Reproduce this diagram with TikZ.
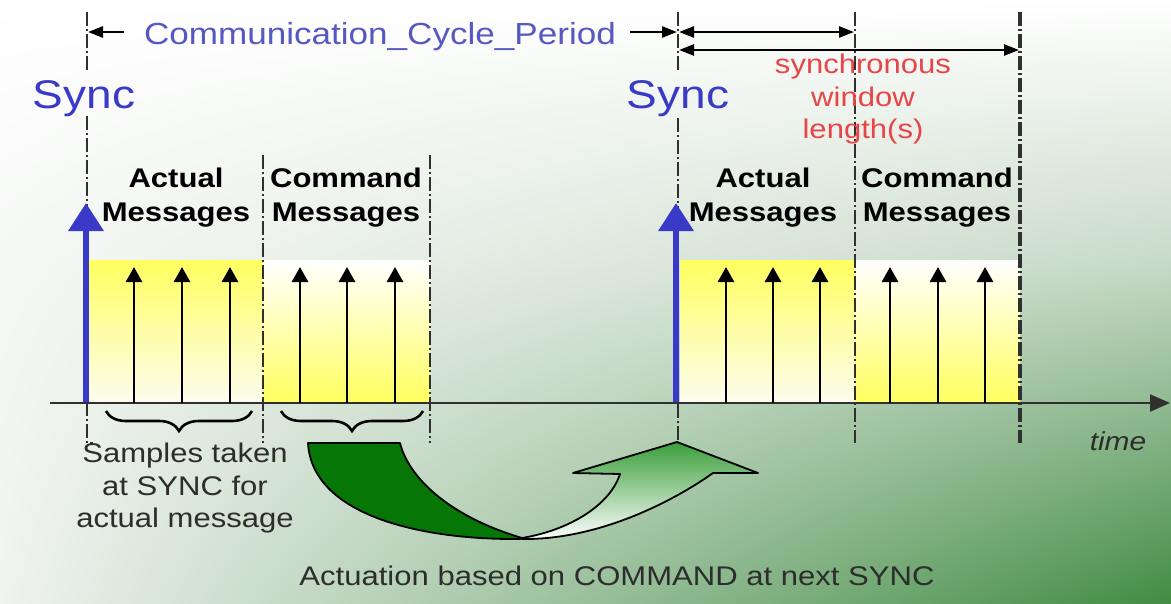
\documentclass[tikz,border=0pt]{standalone}
\usepackage{fontspec}
\setmainfont{Liberation Sans}[FakeStretch=1.15]
\usetikzlibrary{arrows.meta,decorations.pathreplacing,shadings}
\definecolor{syncblue}{RGB}{58,58,200}
\definecolor{labelblue}{RGB}{88,88,196}
\definecolor{redtxt}{RGB}{232,70,70}
\definecolor{yel}{RGB}{255,255,96}
\definecolor{yelw}{RGB}{252,252,238}
\definecolor{dkgreen}{RGB}{6,118,6}
\definecolor{ltgreen}{RGB}{58,158,58}
\definecolor{linegray}{RGB}{48,48,48}
\definecolor{txtgray}{RGB}{45,45,45}
\definecolor{bgA}{RGB}{246,248,246}
\definecolor{bgB}{RGB}{200,218,200}
\definecolor{bgC}{RGB}{240,243,240}
\definecolor{bgD}{RGB}{66,140,68}
\tikzset{
  sepline/.style={draw=linegray, line width=2pt, dash pattern=on 14pt off 3pt on 2pt off 3pt},
  msgarr/.style={-{Triangle[width=16pt,length=15pt]}, line width=2.8pt, black},
  syncarr/.style={-{Triangle[width=34pt,length=28pt]}, line width=6.5pt, syncblue},
  dimarr/.style={{Triangle[width=11pt,length=15pt]}-{Triangle[width=11pt,length=15pt]}, line width=2.5pt, black},
  dimone/.style={-{Triangle[width=11pt,length=15pt]}, line width=2.5pt, black},
  bracest/.style={decorate, decoration={brace, mirror, amplitude=20pt}, line width=2.6pt, black},
  boxlbl/.style={font=\fontsize{27}{34}\selectfont\bfseries, text=black, anchor=base, inner sep=0pt},
  synclbl/.style={font=\fontsize{40}{44}\selectfont, text=syncblue, anchor=base, inner sep=0pt},
  redlbl/.style={font=\fontsize{27}{32}\selectfont, text=redtxt, anchor=base, inner sep=0pt},
  graylbl/.style={font=\fontsize{27}{32}\selectfont, text=txtgray, anchor=base, inner sep=0pt},
  greenout/.style={draw=black, line width=1.8pt, line join=round}
}
\begin{document}
\begin{tikzpicture}[x=1pt,y=-1pt]
\useasboundingbox (0,0) rectangle (1171,603);
% background
\shade[upper left=white, upper right=white, lower left=bgA, lower right=bgB] (0,0) rectangle (1171,260);
\shade[upper left=bgA, upper right=bgB, lower left=bgC, lower right=bgD] (0,260) rectangle (1171,603);
% message boxes
\shade[top color=yel, bottom color=yelw] (89,260) rectangle (263,402);
\shade[top color=white, bottom color=yel] (263,260) rectangle (430,402);
\shade[top color=yel, bottom color=yelw] (680,260) rectangle (855,402);
\shade[top color=white, bottom color=yel] (855,260) rectangle (1020,402);
% separator lines
\draw[sepline] (87,12) -- (87,72);
\draw[sepline] (87,116) -- (87,443) -- (93,443);
\draw[sepline] (678,12) -- (678,72);
\draw[sepline] (678,118) -- (678,443);
\draw[sepline] (263,155) -- (263,443);
\draw[sepline] (430,155) -- (430,443);
\draw[sepline] (855,12) -- (855,443);
\draw[sepline, line width=3.2pt] (1020,12) -- (1020,443);
% time axis
\coordinate (ax0) at (50,403);
\coordinate (ax1) at (1170,403);
\draw[-{Triangle[width=17pt,length=20pt]}, line width=2.4pt, draw=linegray, fill=black] (ax0) -- (ax1);
% message arrows
\foreach \x in {134,182,230,300,347,395,726,773,820,890,938,985}
  \draw[msgarr] (\x,403) -- (\x,267);
% sync arrows
\draw[syncarr] (86,402) -- (86,203);
\draw[syncarr] (676,402) -- (676,203);
% labels
\node[synclbl] (sync1) at (84,108) {Sync};
\node[synclbl] (sync2) at (678,108) {Sync};
\node[font=\fontsize{30.5}{34}\selectfont, text=labelblue, anchor=base, inner sep=0pt] (ccp) at (380,44) {Communication\_Cycle\_Period};
\coordinate (l1) at (88,32);
\coordinate (l1t) at (124,32);
\coordinate (r1t) at (630,32);
\coordinate (r1) at (677,32);
\draw[dimone] (l1t) -- (l1);
\draw[dimone] (r1t) -- (r1);
\draw[dimarr] (679,32) -- (854,32);
\draw[dimarr] (679,50) -- (1019,50);
\node[redlbl] (sw1) at (863,73) {synchronous};
\node[redlbl] (sw2) at (863,106) {window};
\node[redlbl] (sw3) at (863,138) {length(s)};
\node[boxlbl] (a1) at (176,187) {Actual};
\node[boxlbl] (a2) at (176,221) {Messages};
\node[boxlbl] (c1) at (346,187) {Command};
\node[boxlbl] (c2) at (346,221) {Messages};
\node[boxlbl] (a3) at (763,187) {Actual};
\node[boxlbl] (a4) at (763,221) {Messages};
\node[boxlbl] (c3) at (937,187) {Command};
\node[boxlbl] (c4) at (937,221) {Messages};
% braces
\draw[bracest] (106,411) -- (252,411);
\draw[bracest] (281,411) -- (423,411);
% bottom texts
\node[graylbl] (s1) at (185,462) {Samples taken};
\node[graylbl] (s2) at (185,495) {at SYNC for};
\node[graylbl] (s3) at (185,527) {actual message};
\node[graylbl, font=\fontsize{26}{30}\selectfont\itshape] (time) at (1118,450) {time};
\node[graylbl] (act) at (617,585) {Actuation based on COMMAND at next SYNC};
% curved arrow
\fill[dkgreen] (308,443) -- (400,443) .. controls (408,475) and (445,515) .. (522,538) -- (520,539) .. controls (420,540) and (312,515) .. (308,443) -- cycle;
\draw[greenout] (308,443) -- (400,443) .. controls (408,475) and (445,515) .. (522,538) -- (520,539) .. controls (420,540) and (312,515) .. (308,443) -- cycle;
\shade[top color=ltgreen, bottom color=white] (522,538) .. controls (570,530) and (610,505) .. (620,474) -- (573,473) -- (677,442) -- (758,473) -- (713,473) .. controls (675,500) and (600,540) .. (522,539) -- cycle;
\draw[greenout] (522,538) .. controls (570,530) and (610,505) .. (620,474) -- (573,473) -- (677,442) -- (758,473) -- (713,473) .. controls (675,500) and (600,540) .. (522,539) -- cycle;
\end{tikzpicture}
\end{document}
